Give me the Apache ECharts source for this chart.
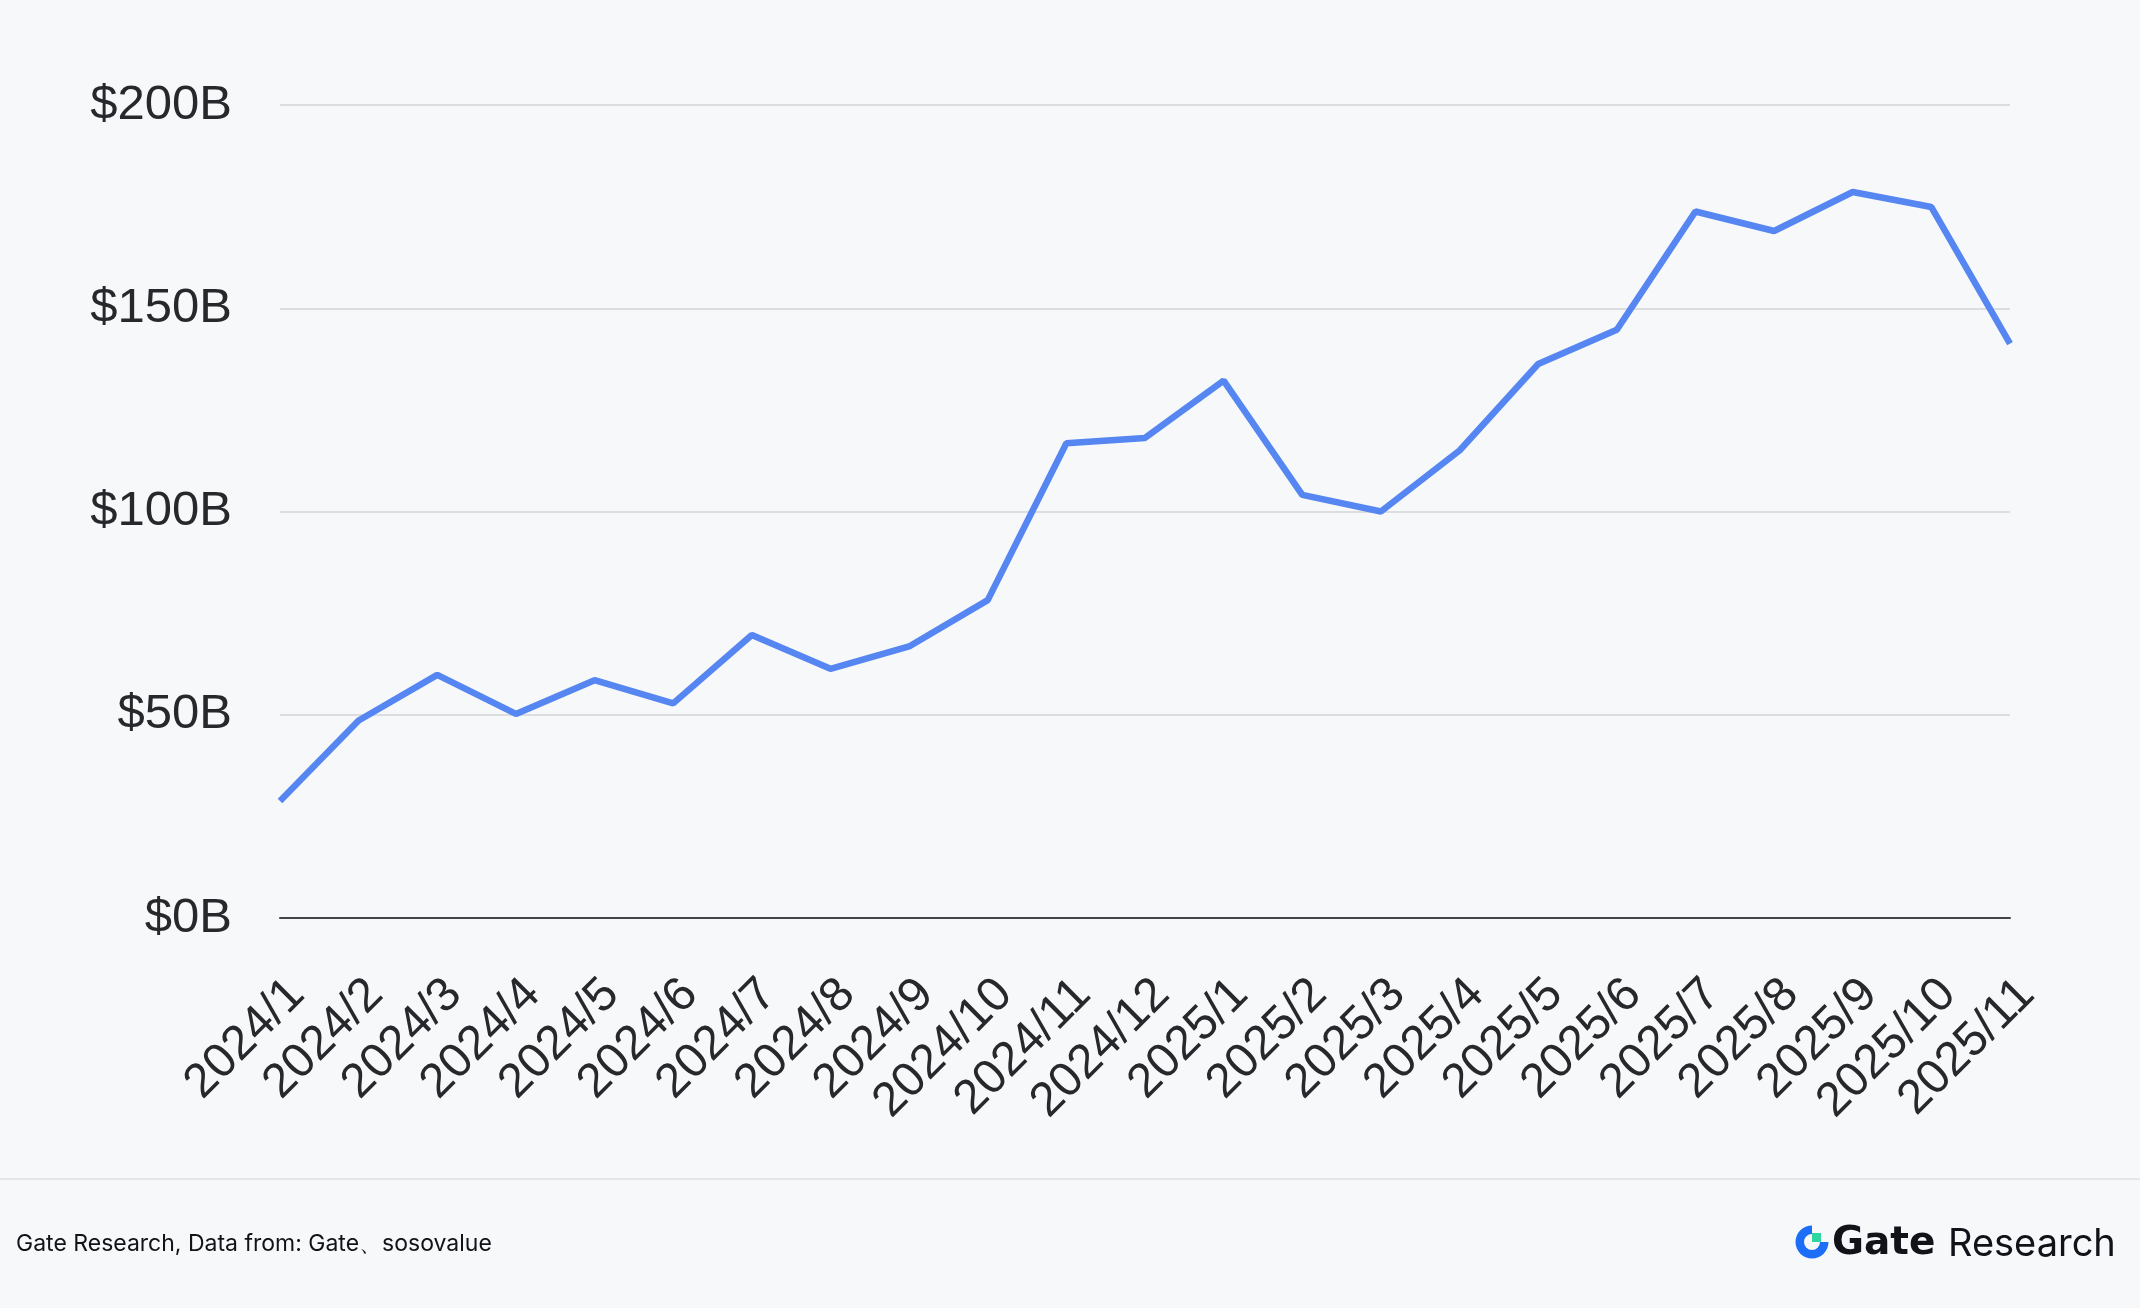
<!DOCTYPE html>
<html>
<head>
<meta charset="utf-8">
<script src="https://cdn.jsdelivr.net/npm/echarts@6/dist/echarts.min.js"></script>
<style>
html,body{margin:0;padding:0;background:#f7f8fa;}
#chart{width:2140px;height:1308px;}
</style>
</head>
<body>
<div id="chart"></div>
<script>
const categories = ['2024/1','2024/2','2024/3','2024/4','2024/5','2024/6','2024/7','2024/8','2024/9','2024/10','2024/11','2024/12','2025/1','2025/2','2025/3','2025/4','2025/5','2025/6','2025/7','2025/8','2025/9','2025/10','2025/11'];
const values = [28.8,48.6,59.8,50.2,58.5,52.8,69.6,61.3,66.8,78.2,116.8,118.1,132.2,104.1,100.0,115.0,136.3,144.7,173.8,169.0,178.6,174.9,141.3];
const yTicks = { min: 0, max: 200, interval: 50 };
const footerText = 'Gate Research, Data from: Gate、sosovalue';

const chart = echarts.init(document.getElementById('chart'));
chart.setOption({
  backgroundColor: '#f7f8fa',
  animation: false,
  grid: { left: 280, right: 130, top: 105, bottom: 390, containLabel: false },
  xAxis: {
    type: 'category',
    data: categories,
    boundaryGap: false,
    axisLine: { show: true, lineStyle: { color: '#444', width: 2 } },
    axisTick: { show: false },
    axisLabel: { rotate: 45, fontSize: 48, color: '#26282c', fontFamily: 'Liberation Sans', margin: 52, interval: 0, verticalAlign: 'top' }
  },
  yAxis: {
    type: 'value',
    min: yTicks.min, max: yTicks.max, interval: yTicks.interval,
    axisLine: { show: false },
    axisTick: { show: false },
    axisLabel: { fontSize: 49, color: '#26282c', fontFamily: 'Liberation Sans', margin: 48, formatter: v => '$' + v + 'B' },
    splitLine: { lineStyle: { color: '#dcdddf', width: 2 } }
  },
  series: [{
    type: 'line',
    data: values,
    showSymbol: false,
    lineStyle: { color: '#5686f1', width: 6.5 },
    itemStyle: { color: '#5686f1' }
  }],
  graphic: [
    { type: 'line', shape: { x1: 0, y1: 1179, x2: 2140, y2: 1179 }, style: { stroke: '#e4e6ea', lineWidth: 2 } },
    { type: 'text', left: 16, top: 1233, style: { text: footerText, font: '23px Inter', fill: '#111318' } },
    { type: 'sector', shape: { cx: 1812, cy: 1242, r: 16.5, r0: 8, startAngle: 0, endAngle: Math.PI * 1.5, clockwise: true }, style: { fill: '#1b6ef5' } },
    { type: 'rect', shape: { x: 1812, y: 1233, width: 9, height: 9 }, style: { fill: '#2fd6a0' } },
    { type: 'text', x: 1832, y: 1244, style: { text: 'Gate', font: 'bold 39px "DejaVu Sans"', fill: '#111318', textVerticalAlign: 'middle' } },
    { type: 'text', x: 1948, y: 1245, style: { text: 'Research', font: '38px Inter', fill: '#111318', textVerticalAlign: 'middle' } }
  ]
});
</script>
</body>
</html>
